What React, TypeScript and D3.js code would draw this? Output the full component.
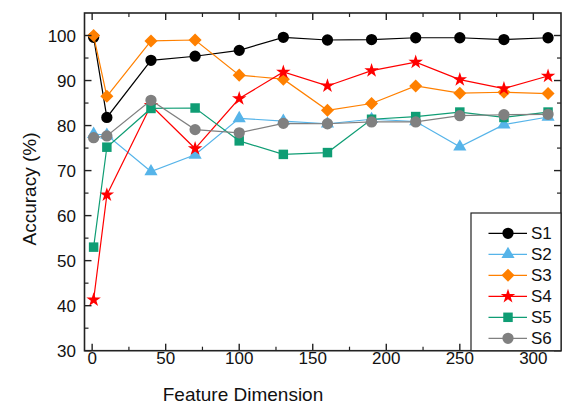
import React from "react";
import * as d3 from "d3";

const xValues = [1, 10, 40, 70, 100, 130, 160, 190, 220, 250, 280, 310];
const s1 = [99.6, 81.8, 94.5, 95.4, 96.7, 99.6, 99.0, 99.1, 99.5, 99.5, 99.1, 99.5];
const s2 = [78.1, 77.9, 69.8, 73.5, 81.6, 81.0, 80.4, 81.4, 80.9, 75.3, 80.2, 81.9];
const s3 = [100.0, 86.5, 98.8, 99.0, 91.2, 90.3, 83.4, 84.9, 88.8, 87.2, 87.4, 87.1];
const s4 = [41.3, 64.6, 84.5, 74.9, 86.0, 91.9, 88.8, 92.2, 94.1, 90.2, 88.2, 91.0];
const s5 = [53.0, 75.2, 83.8, 83.9, 76.6, 73.6, 74.0, 81.4, 82.0, 83.0, 81.8, 83.0];
const s6 = [77.3, 77.7, 85.6, 79.1, 78.4, 80.5, 80.4, 80.8, 80.8, 82.2, 82.4, 82.5];

const seriesNames = ["S1", "S2", "S3", "S4", "S5", "S6"];
const seriesData = [s1, s2, s3, s4, s5, s6];
const colors = ["#000000", "#56B4E9", "#FF8000", "#FF0000", "#0F9D74", "#808080"];
const lineColors = ["#000000", "#56B4E9", "#FF8000", "#FF0000", "#0F9D74", "#808080"];

const xTicks = [0, 50, 100, 150, 200, 250, 300];
const xMinor = [25, 75, 125, 175, 225, 275];
const yTicks = [30, 40, 50, 60, 70, 80, 90, 100];
const yMinor = [35, 45, 55, 65, 75, 85, 95];

const FONT = "'Liberation Sans', Arial, sans-serif";

const L = 84.5, R = 561, T = 13, B = 350.7;

const x = d3.scaleLinear().domain([-5.2, 318.8]).range([L, R]);
const y = d3.scaleLinear().domain([30, 105]).range([B, T]);

const symbols = [
  { type: d3.symbolCircle, size: 100, rot: 0 },
  { type: d3.symbolTriangle, size: 75, rot: 0 },
  { type: d3.symbolSquare, size: 85, rot: 45 },
  { type: d3.symbolStar, size: 65, rot: 0 },
  { type: d3.symbolSquare, size: 90, rot: 0 },
  { type: d3.symbolCircle, size: 100, rot: 0 },
];

function Marker({ i, cx, cy }: { i: number; cx: number; cy: number }) {
  const s = symbols[i];
  const d = d3.symbol().type(s.type).size(s.size)() as string;
  return (
    <path
      d={d}
      transform={`translate(${cx},${cy}) rotate(${s.rot})`}
      fill={colors[i]}
    />
  );
}

export default function App() {
  const line = d3
    .line<number>()
    .x((_, j) => x(xValues[j]))
    .y((v) => y(v));

  const legX = 471, legY = 213;
  const legRowY = (k: number) => 233.3 + k * 21;

  return (
    <svg
      width={563}
      height={406}
      style={{ position: "absolute", left: 0, top: 0, background: "#fff" }}
      fontFamily={FONT}
    >
      <rect x={0} y={0} width={563} height={406} fill="#fff" />
      {/* series */}
      {seriesData.map((vals, i) => (
        <g key={seriesNames[i]}>
          <path d={line(vals) as string} fill="none" stroke={lineColors[i]} strokeWidth={1.2} />
          {vals.map((v, j) => (
            <Marker key={j} i={i} cx={x(xValues[j])} cy={y(v)} />
          ))}
        </g>
      ))}

      {/* frame */}
      <rect x={L} y={T} width={R - L} height={B - T} fill="none" stroke="#222" strokeWidth={1.6} />

      {/* x ticks */}
      {xTicks.map((t) => (
        <g key={"xt" + t}>
          <line x1={x(t)} x2={x(t)} y1={B} y2={B - 7} stroke="#222" strokeWidth={1.4} />
          <line x1={x(t)} x2={x(t)} y1={T} y2={T + 7} stroke="#222" strokeWidth={1.4} />
          <text x={x(t)} y={363.5} textAnchor="middle" fontSize={17} fill="#111">
            {t}
          </text>
        </g>
      ))}
      {xMinor.map((t) => (
        <g key={"xm" + t}>
          <line x1={x(t)} x2={x(t)} y1={B} y2={B - 4} stroke="#222" strokeWidth={1.2} />
          <line x1={x(t)} x2={x(t)} y1={T} y2={T + 4} stroke="#222" strokeWidth={1.2} />
        </g>
      ))}

      {/* y ticks */}
      {yTicks.map((t) => (
        <g key={"yt" + t}>
          <line x1={L} x2={L + 7} y1={y(t)} y2={y(t)} stroke="#222" strokeWidth={1.4} />
          <line x1={R} x2={R - 7} y1={y(t)} y2={y(t)} stroke="#222" strokeWidth={1.4} />
          <text x={76} y={y(t) + 6} textAnchor="end" fontSize={17} fill="#111">
            {t}
          </text>
        </g>
      ))}
      {yMinor.map((t) => (
        <g key={"ym" + t}>
          <line x1={L} x2={L + 4} y1={y(t)} y2={y(t)} stroke="#222" strokeWidth={1.2} />
          <line x1={R} x2={R - 4} y1={y(t)} y2={y(t)} stroke="#222" strokeWidth={1.2} />
        </g>
      ))}

      {/* axis titles */}
      <text x={243} y={400.5} textAnchor="middle" fontSize={19} fill="#111">
        Feature Dimension
      </text>
      <text
        transform={`translate(36,189) rotate(-90)`}
        textAnchor="middle"
        fontSize={19}
        fill="#111"
      >
        Accuracy (%)
      </text>

      {/* legend */}
      <rect x={legX} y={legY} width={R - legX} height={B - legY} fill="#fff" stroke="#222" strokeWidth={1.2} />
      {seriesNames.map((n, k) => (
        <g key={"leg" + n}>
          <line x1={488.5} x2={527} y1={legRowY(k)} y2={legRowY(k)} stroke={lineColors[k]} strokeWidth={1.2} />
          <Marker i={k} cx={508} cy={legRowY(k)} />
          <text x={531} y={legRowY(k) + 6} fontSize={17} fill="#111">
            {n}
          </text>
        </g>
      ))}
    </svg>
  );
}
